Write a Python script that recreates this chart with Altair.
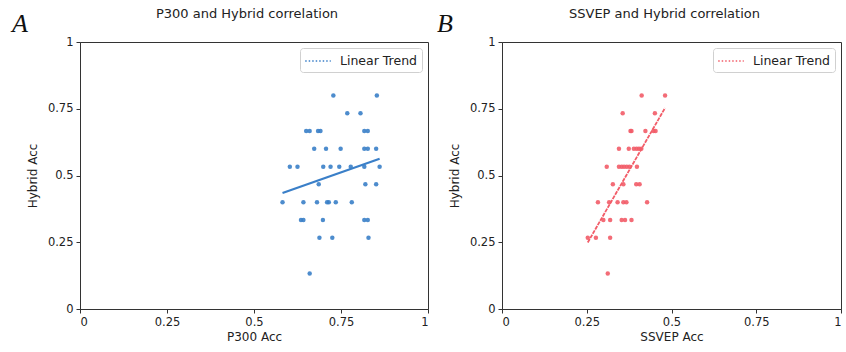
import altair as alt
import pandas as pd

# ---- data ----
p300_acc = [0.728, 0.853,
            0.768, 0.806,
            0.650, 0.660, 0.684, 0.691, 0.817, 0.827,
            0.673, 0.707, 0.749, 0.817, 0.827, 0.851,
            0.603, 0.625, 0.699, 0.720, 0.745, 0.778, 0.817, 0.861,
            0.686, 0.820, 0.851,
            0.582, 0.642, 0.681, 0.710, 0.715, 0.735, 0.781,
            0.635, 0.642, 0.698, 0.817, 0.827,
            0.688, 0.725, 0.829,
            0.660]
p300_hybrid = [0.800, 0.800,
               0.733, 0.733,
               0.667, 0.667, 0.667, 0.667, 0.667, 0.667,
               0.600, 0.600, 0.600, 0.600, 0.600, 0.600,
               0.533, 0.533, 0.533, 0.533, 0.533, 0.533, 0.533, 0.533,
               0.467, 0.467, 0.467,
               0.400, 0.400, 0.400, 0.400, 0.400, 0.400, 0.400,
               0.333, 0.333, 0.333, 0.333, 0.333,
               0.267, 0.267, 0.267,
               0.133]

ssvep_acc = [0.412, 0.481,
             0.356, 0.451,
             0.379, 0.382, 0.423, 0.447, 0.453,
             0.345, 0.374, 0.389, 0.397, 0.404, 0.411,
             0.309, 0.345, 0.353, 0.360, 0.368, 0.376, 0.398,
             0.327, 0.358, 0.396, 0.406,
             0.283, 0.316, 0.341, 0.358, 0.367, 0.428,
             0.299, 0.319, 0.353, 0.363, 0.382,
             0.253, 0.277, 0.319,
             0.312]
ssvep_hybrid = [0.800, 0.800,
                0.733, 0.733,
                0.667, 0.667, 0.667, 0.667, 0.667,
                0.600, 0.600, 0.600, 0.600, 0.600, 0.600,
                0.533, 0.533, 0.533, 0.533, 0.533, 0.533, 0.533,
                0.467, 0.467, 0.467, 0.467,
                0.400, 0.400, 0.400, 0.400, 0.400, 0.400,
                0.333, 0.333, 0.333, 0.333, 0.333,
                0.267, 0.267, 0.267,
                0.133]

tick_values = [0, 0.25, 0.5, 0.75, 1]
panel_titles = ["P300 and Hybrid correlation", "SSVEP and Hybrid correlation"]
x_titles = ["P300 Acc", "SSVEP Acc"]
letters = ["A", "B"]
legend_label = "Linear Trend"

FONT = "DejaVu Sans"
LABEL_EXPR = "format(datum.value, '.2~f')"


def panel(xs, ys, xtitle, title, letter, color, dash, line_w, width, letter_dx, key):
    df = pd.DataFrame({"acc": xs, "hyb": ys, key: legend_label})
    base = alt.Chart(df)
    x_enc = alt.X("acc:Q", scale=alt.Scale(domain=[0, 1], nice=False),
                  axis=alt.Axis(values=tick_values, labelExpr=LABEL_EXPR, title=xtitle))
    y_enc = alt.Y("hyb:Q", scale=alt.Scale(domain=[0, 1], nice=False),
                  axis=alt.Axis(values=tick_values, labelExpr=LABEL_EXPR, title="Hybrid Acc"))
    pts = base.mark_circle(size=20, opacity=0.9, color=color).encode(x=x_enc, y=y_enc)
    line_kwargs = dict(strokeWidth=line_w)
    if dash:
        line_kwargs["strokeDash"] = dash
    trend = base.transform_regression("acc", "hyb", groupby=[key]).mark_line(**line_kwargs).encode(
        x="acc:Q", y="hyb:Q",
        color=alt.Color(f"{key}:N", scale=alt.Scale(range=[color]),
                        legend=alt.Legend(title=None, orient="top-right", offset=6,
                                          symbolType="M-1.6,0H1.6", symbolSize=256,
                                          symbolDash=[1.5, 2], symbolStrokeWidth=1.5,
                                          symbolOffset=5,
                                          labelFont=FONT, labelFontSize=12.5, labelColor="#222",
                                          labelOffset=13, padding=4,
                                          fillColor="white", strokeColor="#d0d0d0",
                                          cornerRadius=3)))
    ttl = alt.Chart(pd.DataFrame({"t": [title]})).mark_text(
        font=FONT, fontSize=13, color="#222", align="center", baseline="alphabetic"
    ).encode(x=alt.value(width / 2 - 7), y=alt.value(-24), text="t:N")
    let = alt.Chart(pd.DataFrame({"t": [letter]})).mark_text(
        font="Liberation Serif", fontStyle="italic", fontSize=26, color="#111",
        align="left", baseline="alphabetic"
    ).encode(x=alt.value(letter_dx), y=alt.value(-10), text="t:N")
    return alt.layer(pts, trend, ttl, let).properties(width=width, height=267)


left = panel(p300_acc, p300_hybrid, x_titles[0], panel_titles[0], letters[0],
             "#3a7fc8", None, 2.2, 348, -68, "trend_a")
right = panel(ssvep_acc, ssvep_hybrid, x_titles[1], panel_titles[1], letters[1],
              "#f25c68", [4, 1], 1.8, 339, -65, "trend_b")

chart = alt.hconcat(left, right, spacing=7).resolve_scale(color="independent").resolve_legend(
    color="independent"
).properties(
    padding={"left": 11, "top": 7, "right": 0, "bottom": 0}
).configure_view(stroke="#333", strokeWidth=1).configure_axis(
    grid=False, domainColor="#333", tickColor="#333", tickSize=4, labelPadding=3,
    labelFont=FONT, labelFontSize=11.5, labelColor="#222",
    titleFont=FONT, titleFontSize=12, titleColor="#222", titleFontWeight="normal",
    titlePadding=8
).configure_axisX(titlePadding=4)

chart.save("out.html", embed_options={"renderer": "svg", "actions": False})
